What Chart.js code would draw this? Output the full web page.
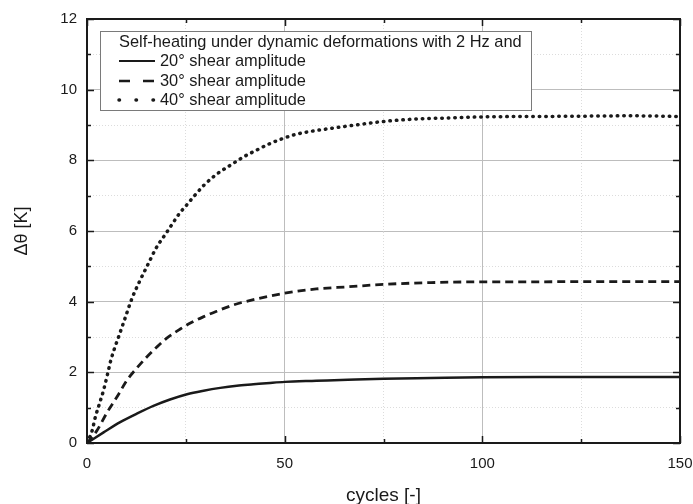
<!DOCTYPE html>
<html>
<head>
<meta charset="utf-8">
<script src="https://cdn.jsdelivr.net/npm/chart.js@4.4.1/dist/chart.umd.min.js"></script>
<style>
    body { margin: 0; background: #fff; }
    #wrap { width: 693px; height: 504px; }
</style>
</head>
<body>
<div id="wrap"><canvas id="chart" width="693" height="504"></canvas></div>
<script>
// values
const legendTitle = 'Self-heating under dynamic deformations with 2 Hz and';
const seriesLabels = ['20° shear amplitude', '30° shear amplitude', '40° shear amplitude'];

const cycles20 = [0, 4.2, 8.4, 12.6, 16.8, 21, 25.3, 29.5, 33.7, 37.9, 42.1, 46.3, 50, 58, 66, 75, 87, 100, 115, 130, 150];
const delta20 = [0, 0.30, 0.59, 0.83, 1.05, 1.23, 1.38, 1.48, 1.56, 1.62, 1.66, 1.70, 1.73, 1.76, 1.79, 1.82, 1.84, 1.86, 1.87, 1.87, 1.87];

const cycles30 = [0, 2.5, 5, 8, 10, 12.6, 15, 17.6, 20.1, 23.5, 26.4, 29.4, 32.8, 37.4, 43, 50, 58, 66, 75, 87, 100, 113, 125, 138, 150];
const delta30 = [0, 0.35, 0.85, 1.38, 1.76, 2.12, 2.42, 2.71, 2.96, 3.22, 3.41, 3.57, 3.73, 3.92, 4.08, 4.24, 4.36, 4.42, 4.49, 4.54, 4.56, 4.56, 4.57, 4.57, 4.57];

const cycles40 = [0, 1.3, 2.1, 3.2, 4.2, 5.2, 6, 7, 8.1, 9.5, 11.4, 12.9, 15.4, 17.5, 19.6, 21.7, 23.4, 25.1, 27.2, 29.8, 32.7, 36.1, 39.5, 42.9, 46.2, 49.6, 53, 57.2, 61.4, 68.6, 75, 83.3, 91.8, 100, 112.9, 125.5, 138, 150];
const delta40 = [0, 0.35, 0.73, 1.13, 1.50, 1.95, 2.33, 2.69, 3.04, 3.49, 4.10, 4.48, 5.05, 5.52, 5.87, 6.22, 6.50, 6.72, 7.00, 7.32, 7.60, 7.85, 8.09, 8.29, 8.47, 8.62, 8.74, 8.83, 8.90, 9.01, 9.10, 9.17, 9.20, 9.23, 9.24, 9.25, 9.26, 9.24];

const xTicks = [0, 50, 100, 150];
const yTicks = [0, 2, 4, 6, 8, 10, 12];

const FONT = "'Liberation Sans', Arial, sans-serif";
const INK = '#1a1a1a';

function toPoints(xs, ys) {
    return xs.map((x, i) => ({ x: x, y: ys[i] }));
}

// frame with inward ticks on all four sides, plus the boxed legend
const framePlugin = {
    id: 'frame',
    afterDatasetsDraw(chart) {
        const { ctx, chartArea: a, scales } = chart;
        const xs = scales.x, ys = scales.y;
        ctx.save();
        ctx.strokeStyle = INK;
        ctx.lineWidth = 1.5;
        ctx.beginPath();
        for (let v = 0; v <= 150; v += 25) {
            const px = Math.round(xs.getPixelForValue(v)) + 0.5;
            const len = xTicks.includes(v) ? 7 : 4;
            ctx.moveTo(px, a.bottom); ctx.lineTo(px, a.bottom - len);
            ctx.moveTo(px, a.top); ctx.lineTo(px, a.top + len);
        }
        for (let v = 0; v <= 12; v += 1) {
            const py = Math.round(ys.getPixelForValue(v)) + 0.5;
            const len = yTicks.includes(v) ? 7 : 4;
            ctx.moveTo(a.left, py); ctx.lineTo(a.left + len, py);
            ctx.moveTo(a.right, py); ctx.lineTo(a.right - len, py);
        }
        ctx.stroke();

        ctx.lineWidth = 2;
        ctx.strokeRect(a.left, a.top, a.right - a.left, a.bottom - a.top);

        // legend box
        const bx = 100, by = 31, bw = 431, bh = 79;
        ctx.fillStyle = '#fff';
        ctx.fillRect(bx, by, bw, bh);
        ctx.strokeStyle = '#7a7a7a';
        ctx.lineWidth = 1;
        ctx.strokeRect(bx + 0.5, by + 0.5, bw, bh);

        ctx.font = '16.4px ' + FONT;
        ctx.fillStyle = INK;
        ctx.textBaseline = 'middle';
        ctx.textAlign = 'left';
        ctx.fillText(legendTitle, 119, 42);

        const rows = [61, 81, 100];
        chart.data.datasets.forEach((ds, i) => {
            const y = rows[i];
            ctx.save();
            ctx.strokeStyle = INK;
            ctx.lineWidth = ds.legendWidth;
            ctx.lineCap = ds.legendCap;
            ctx.setLineDash(ds.legendDash);
            ctx.beginPath();
            ctx.moveTo(119, y);
            ctx.lineTo(155, y);
            ctx.stroke();
            ctx.restore();
            ctx.fillText(ds.label, 160, y);
        });
        ctx.restore();
    }
};

new Chart(document.getElementById('chart'), {
    type: 'line',
    data: {
        datasets: [
            {
                label: seriesLabels[0],
                data: toPoints(cycles20, delta20),
                borderColor: INK,
                borderWidth: 2.5,
                legendDash: [],
                legendWidth: 2,
                legendCap: 'butt'
            },
            {
                label: seriesLabels[1],
                data: toPoints(cycles30, delta30),
                borderColor: INK,
                borderWidth: 2.8,
                borderDash: [8, 5],
                legendDash: [11, 13],
                legendWidth: 2.5,
                legendCap: 'butt'
            },
            {
                label: seriesLabels[2],
                data: toPoints(cycles40, delta40),
                borderColor: INK,
                borderWidth: 3.5,
                borderDash: [0.5, 6],
                borderCapStyle: 'round',
                legendDash: [0.5, 16.5],
                legendWidth: 3.5,
                legendCap: 'round'
            }
        ]
    },
    options: {
        responsive: false,
        animation: false,
        events: [],
        layout: { padding: { top: 19, right: 0, left: 0, bottom: 0 } },
        elements: {
            point: { radius: 0 },
            line: { cubicInterpolationMode: 'monotone', fill: false }
        },
        plugins: {
            legend: { display: false },
            tooltip: { enabled: false }
        },
        scales: {
            x: {
                type: 'linear',
                min: 0,
                max: 150,
                afterFit: (s) => {
                    s.height = 61;
                    s.paddingLeft = 0;
                    s.paddingRight = 13;
                },
                ticks: {
                    stepSize: 25,
                    padding: 12,
                    color: INK,
                    font: { family: FONT, size: 15 },
                    callback: (v) => xTicks.includes(v) ? v : ''
                },
                grid: {
                    drawTicks: false,
                    color: (c) => c.tick && xTicks.includes(c.tick.value) ? '#bdbdbd' : '#dcdcdc',
                    lineWidth: 1
                },
                border: {
                    display: false,
                    dash: (c) => c.tick && !xTicks.includes(c.tick.value) ? [1, 2] : []
                },
                title: {
                    display: true,
                    text: 'cycles [-]',
                    color: INK,
                    font: { family: FONT, size: 19, lineHeight: 1 },
                    padding: { top: 0, bottom: -1 }
                }
            },
            y: {
                type: 'linear',
                min: 0,
                max: 12,
                afterFit: (s) => { s.width = 87; },
                ticks: {
                    stepSize: 1,
                    padding: 10,
                    color: INK,
                    font: { family: FONT, size: 15 },
                    callback: (v) => yTicks.includes(v) ? v : ''
                },
                grid: {
                    drawTicks: false,
                    color: (c) => c.tick && yTicks.includes(c.tick.value) ? '#bdbdbd' : '#dcdcdc',
                    lineWidth: 1
                },
                border: {
                    display: false,
                    dash: (c) => c.tick && !yTicks.includes(c.tick.value) ? [1, 2] : []
                },
                title: {
                    display: true,
                    text: 'Δθ [K]',
                    color: INK,
                    font: { family: FONT, size: 18, lineHeight: 1.2 },
                    padding: { top: 11, bottom: 0 }
                }
            }
        }
    },
    plugins: [framePlugin]
});
</script>
</body>
</html>
